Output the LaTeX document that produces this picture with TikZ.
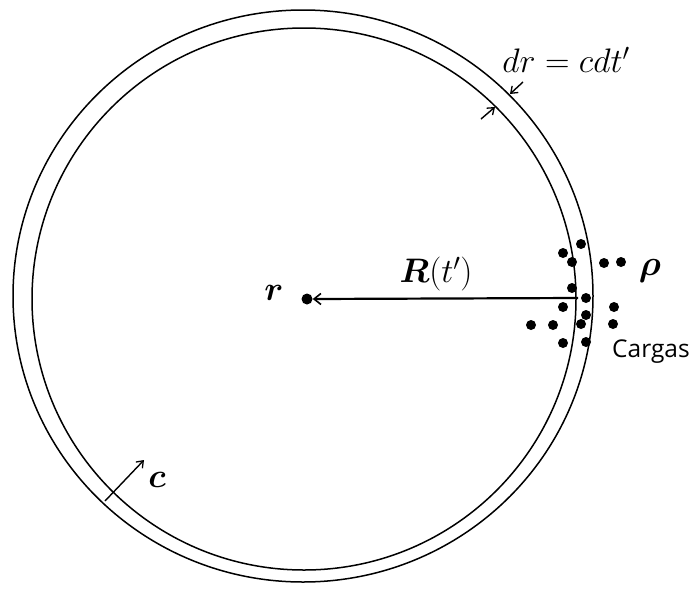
\documentclass[tikz,border=0pt]{standalone}
\usepackage{fix-cm}
\usepackage{amsmath,bm}
\usepackage{fontspec}
\newfontfamily\cargasfont{Open Sans}
\usetikzlibrary{arrows.meta,shapes.geometric}
\tikzset{
  ring/.style={draw, ellipse, line width=1.5pt, inner sep=0pt},
  charge/.style={circle, fill=black, minimum size=10pt, inner sep=0pt},
  radarrow/.style={line width=2.2pt, -{Straight Barb[length=7pt,width=11pt,line width=1.6pt]}},
  thinarrow/.style={line width=1.4pt, -{Straight Barb[length=6pt,width=9pt,line width=1.3pt]}},
  lbl/.style={inner sep=0pt}
}
\begin{document}
\begin{tikzpicture}[x=1pt,y=-1pt]
\useasboundingbox (0,0) rectangle (694,590);
% rings
\node[ring, minimum width=580pt, minimum height=572pt] (outer) at (303,296) {};
\node[ring, minimum width=544pt, minimum height=542pt] (inner) at (304,299) {};
% centre point
\node[charge, minimum size=11pt] (rpt) at (307,299) {};
\node[lbl] (rlabel) at (274,293) {\fontsize{34}{40}\selectfont$\bm{r}$};
% radius vector
\coordinate (rstart) at (578,298);
\draw[radarrow] (rstart) -- (rpt.east);
\node[lbl] (Rlabel) at (436,274) {\fontsize{34}{40}\selectfont$\bm{R}(t')$};
% charges
\foreach \n/\px/\py in {1/581/244,2/563/253,3/572/262,4/604/263,5/621/262,6/572/288,7/586/298,8/563/307,9/614/307,10/586/315,11/581/324,12/531/325,13/553/325,14/613/324,15/563/343,16/586/342}
  \node[charge] (d\n) at (\px,\py) {};
\node[lbl] (rho) at (650,271) {\fontsize{36}{40}\selectfont$\bm{\rho}$};
\node[lbl] (cargas) at (651,352) {\cargasfont\fontsize{24.5}{28}\selectfont Cargas};
% dr markers
\coordinate (dro) at (523,82);
\coordinate (drotip) at (510,94);
\coordinate (dri) at (481,119);
\coordinate (dritip) at (495,107);
\draw[thinarrow] (dro) -- (drotip);
\draw[thinarrow] (dri) -- (dritip);
\node[lbl] (drlabel) at (566,60) {\fontsize{34}{40}\selectfont$dr = cdt'$};
% c arrow
\coordinate (cstart) at (105,501);
\coordinate (cend) at (144,460);
\draw[thinarrow] (cstart) -- (cend);
\node[lbl] (clabel) at (157,480) {\fontsize{34}{40}\selectfont$\bm{c}$};
\end{tikzpicture}
\end{document}
